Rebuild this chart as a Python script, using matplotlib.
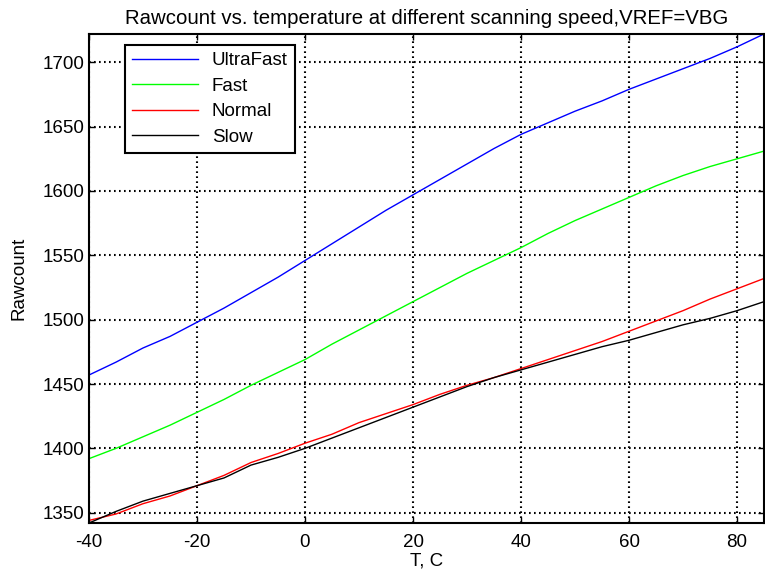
import numpy as np
import matplotlib
matplotlib.use('Agg')
import matplotlib.pyplot as plt

# temperature sweep, C
temp = [-40, -35, -30, -25, -20, -15, -10, -5, 0, 5, 10, 15, 20,
        25, 30, 35, 40, 45, 50, 55, 60, 65, 70, 75, 80, 85]

# rawcount per scanning speed
ultrafast = [1457, 1467, 1478, 1487, 1498, 1509, 1521, 1533, 1546, 1559, 1572, 1585, 1597,
             1609, 1621, 1633, 1644, 1653, 1662, 1670, 1679, 1687, 1695, 1703, 1712, 1722]
fast = [1392, 1400, 1409, 1418, 1428, 1438, 1449, 1459, 1469, 1481, 1492, 1503, 1514,
        1525, 1536, 1546, 1556, 1567, 1577, 1586, 1595, 1604, 1612, 1619, 1625, 1631]
normal = [1344, 1349, 1357, 1363, 1371, 1379, 1389, 1396, 1404, 1411, 1420, 1427, 1434,
          1442, 1449, 1455, 1462, 1469, 1476, 1483, 1491, 1499, 1507, 1516, 1524, 1532]
slow = [1342, 1351, 1359, 1365, 1371, 1377, 1387, 1393, 1400, 1408, 1416, 1424, 1432,
        1440, 1448, 1455, 1461, 1467, 1473, 1479, 1484, 1490, 1496, 1501, 1507, 1514]

xticks = [-40, -20, 0, 20, 40, 60, 80]
yticks = [1350, 1400, 1450, 1500, 1550, 1600, 1650, 1700]

plt.rcParams['font.family'] = ['Liberation Sans', 'DejaVu Sans']
plt.rcParams['font.size'] = 13.5
plt.rcParams['axes.unicode_minus'] = False

fig = plt.figure(figsize=(7.65, 5.75), dpi=100)
ax = fig.add_axes([89 / 765, 1 - 523 / 575, (764 - 89) / 765, (523 - 34) / 575])

ax.plot(temp, ultrafast, color='#0000ff', lw=1.0, label='UltraFast')
ax.plot(temp, fast, color='#00ff00', lw=1.0, label='Fast')
ax.plot(temp, normal, color='#ff0000', lw=1.0, label='Normal')
ax.plot(temp, slow, color='black', lw=1.0, label='Slow')

ax.set_xlim(-40, 85)
ax.set_ylim(1342, 1722)
ax.set_xticks(xticks)
ax.set_yticks(yticks)
ax.grid(True, color='black', lw=1.5, linestyle=(0, (0.8, 1.6)))
ax.tick_params(direction='in', length=4, width=1, top=True, right=True)
ax.tick_params(axis='x', pad=8)
ax.tick_params(axis='y', pad=3)
for s in ax.spines.values():
    s.set_linewidth(1.5)

ax.set_title('Rawcount vs. temperature at different scanning speed,VREF=VBG',
             fontsize=14.7, pad=7)
ax.set_xlabel('T, C', labelpad=1)
ax.set_ylabel('Rawcount', labelpad=11)

leg = ax.legend(loc='upper left', bbox_to_anchor=(125 / 765, 1 - 45 / 575),
                bbox_transform=fig.transFigure, borderaxespad=0, fancybox=False,
                framealpha=1, edgecolor='black', handlelength=3.5, handletextpad=0.75,
                labelspacing=0.45, borderpad=0.38)
leg.get_frame().set_linewidth(1.5)

fig.savefig('out.png', dpi=100)
